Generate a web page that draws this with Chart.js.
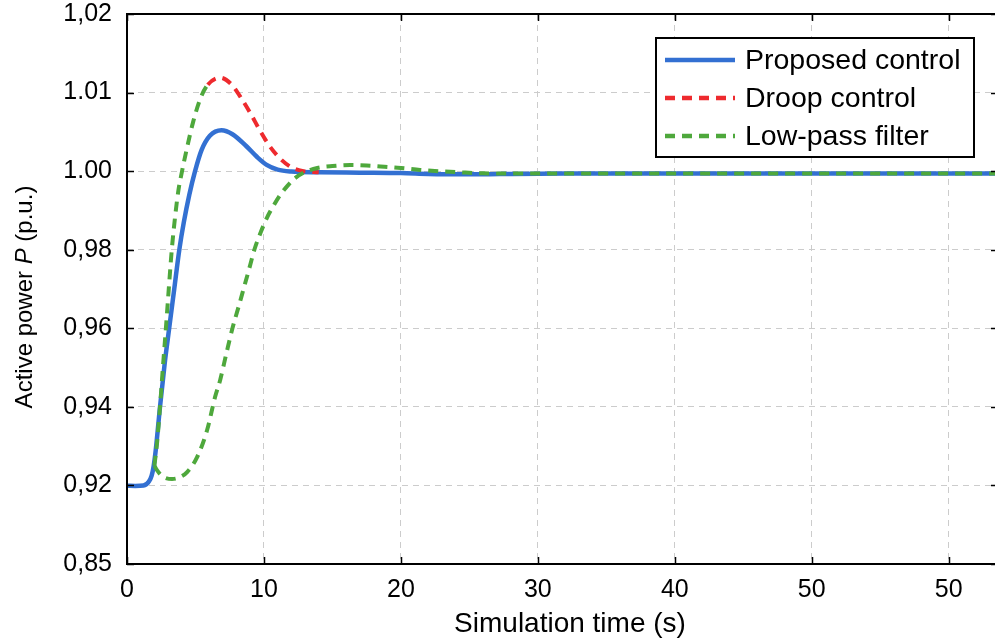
<!DOCTYPE html>
<html>
<head>
<meta charset="utf-8">
<script src="https://cdn.jsdelivr.net/npm/chart.js@4.4.1/dist/chart.umd.min.js"></script>
<style>
  html, body { margin: 0; padding: 0; background: #fff; overflow: hidden; }
  #wrap { width: 1000px; height: 642px; }
</style>
</head>
<body>
<div id="wrap"><canvas id="chart"></canvas></div>
<script>
// axis ticks (the y axis of the original is not linear: labels are evenly spaced)
const xTickValues = [0, 10, 20, 30, 40, 50, 60];
const xTickLabels = ['0', '10', '20', '30', '40', '50', '50'];
const yTickValues = [0.85, 0.92, 0.94, 0.96, 0.98, 1.00, 1.01, 1.02];
const yTickLabels = ['0,85', '0,92', '0,94', '0,96', '0,98', '1.00', '1.01', '1,02'];

// Proposed control
const proposedT = [0, 0.6, 1.2, 1.6, 1.8, 1.95, 2.1, 2.41, 2.75, 3.08, 3.45, 3.82, 4.15, 4.55, 4.97, 5.45, 6.05, 6.9, 7.7, 8.7, 9.5, 10.2, 11.0, 12.0, 14, 17, 20, 22, 24, 26, 28, 32, 40, 50, 63.6];
const proposedP = [0.9197, 0.9195, 0.9199, 0.9210, 0.9225, 0.9250, 0.9290, 0.9400, 0.9510, 0.9600, 0.9700, 0.9800, 0.9870, 0.9940, 1.0000, 1.0027, 1.0045, 1.0052, 1.0047, 1.0032, 1.0018, 1.0008, 1.0002, 0.9999, 0.9997, 0.9996, 0.9995, 0.9993, 0.9992, 0.9992, 0.9993, 0.9994, 0.9994, 0.9994, 0.9994];

// Droop control (rising part is covered by the green dashes in the original)
const droopT = [2.0, 2.2, 2.41, 2.62, 2.84, 3.05, 3.27, 3.5, 3.75, 4.02, 4.4, 4.85, 5.35, 5.9, 6.8, 7.65, 8.3, 9.0, 9.7, 10.45, 11.3, 12.1, 12.9, 14.0];
const droopP = [0.9250, 0.9310, 0.9400, 0.9500, 0.9600, 0.9700, 0.9800, 0.9880, 0.9950, 1.0000, 1.0031, 1.0064, 1.0092, 1.0110, 1.0119, 1.0110, 1.0094, 1.0074, 1.0052, 1.0031, 1.0014, 1.0004, 1.0000, 0.9997];
const droopGreenUntil = 6.2;

// Low-pass filter
const lpfT = [2.0, 2.19, 2.56, 3.29, 3.87, 4.39, 5.12, 5.85, 6.43, 6.8, 7.25, 7.7, 8.15, 8.55, 8.95, 9.3, 9.75, 10.2, 10.7, 11.2, 11.7, 12.2, 12.9, 13.9, 15.0, 16.3, 17.5, 18.5, 20.0, 21.4, 22.9, 24.3, 26, 28, 32, 40, 50, 63.6];
const lpfP = [0.9250, 0.9239, 0.9224, 0.92164, 0.9221, 0.9234, 0.9272, 0.9341, 0.9425, 0.9468, 0.9535, 0.9600, 0.9655, 0.9705, 0.9755, 0.9800, 0.9843, 0.9880, 0.9912, 0.9940, 0.9962, 0.9980, 0.9996, 1.0004, 1.00065, 1.00078, 1.00072, 1.0006, 1.0004, 1.00015, 0.99995, 0.9997, 0.99945, 0.9994, 0.9994, 0.9994, 0.9994, 0.9994];

const BLUE = '#3370d2';
const RED = '#ee2a2e';
const GREEN = '#4ea83c';
const FONT = '"Liberation Sans", Arial, Helvetica, sans-serif';

// map a p.u. value onto the evenly spaced tick positions
function toAxis(v) {
  const vals = yTickValues;
  let i = 0;
  while (i < vals.length - 2 && v > vals[i + 1]) i++;
  return i + (v - vals[i]) / (vals[i + 1] - vals[i]);
}

function points(ts, ps) {
  return ts.map((t, i) => ({ x: t, y: toAxis(ps[i]) }));
}

Chart.defaults.font.family = FONT;
Chart.defaults.color = '#000';

const framePlugin = {
  id: 'frame',
  afterDraw(chart) {
    const { ctx, chartArea: a, scales: { x, y } } = chart;
    ctx.save();
    ctx.strokeStyle = '#000';
    ctx.lineWidth = 2;
    ctx.strokeRect(a.left, a.top, a.right - a.left, a.bottom - a.top);
    ctx.beginPath();
    x.ticks.forEach(t => {
      const px = Math.round(x.getPixelForValue(t.value)) + 0.5;
      ctx.moveTo(px, a.bottom); ctx.lineTo(px, a.bottom - 7);
      ctx.moveTo(px, a.top); ctx.lineTo(px, a.top + 7);
    });
    y.ticks.forEach(t => {
      const py = Math.round(y.getPixelForValue(t.value)) + 0.5;
      ctx.moveTo(a.left, py); ctx.lineTo(a.left + 7, py);
      ctx.moveTo(a.right, py); ctx.lineTo(a.right - 7, py);
    });
    ctx.lineWidth = 1.5;
    ctx.stroke();

    // x axis title
    ctx.fillStyle = '#000';
    ctx.font = '28px ' + FONT;
    ctx.textAlign = 'center';
    ctx.textBaseline = 'middle';
    ctx.fillText('Simulation time (s)', 570, 624);

    // y axis title with italic P
    ctx.textAlign = 'left';
    const parts = [['Active power ', 'normal'], ['P', 'italic'], [' (p.u.)', 'normal']];
    const size = 24;
    let total = 0;
    parts.forEach(p => {
      ctx.font = p[1] + ' ' + size + 'px ' + FONT;
      total += ctx.measureText(p[0]).width;
    });
    ctx.translate(25, 297);
    ctx.rotate(-Math.PI / 2);
    let cx = -total / 2;
    parts.forEach(p => {
      ctx.font = p[1] + ' ' + size + 'px ' + FONT;
      ctx.fillText(p[0], cx, 0);
      cx += ctx.measureText(p[0]).width;
    });
    ctx.restore();

    // legend box inside the plot
    ctx.save();
    ctx.fillStyle = '#fff';
    ctx.fillRect(656, 38, 318, 119);
    ctx.strokeStyle = '#000';
    ctx.lineWidth = 2;
    ctx.strokeRect(656, 38, 318, 119);
    const rows = [
      ['Proposed control', BLUE, []],
      ['Droop control', RED, [10, 7]],
      ['Low-pass filter', GREEN, [10, 7]]
    ];
    rows.forEach((r, i) => {
      const yy = 60 + i * 38;
      ctx.beginPath();
      ctx.setLineDash(r[2]);
      ctx.strokeStyle = r[1];
      ctx.lineWidth = 4.5;
      ctx.moveTo(665, yy); ctx.lineTo(735, yy);
      ctx.stroke();
      ctx.setLineDash([]);
      ctx.fillStyle = '#000';
      ctx.font = '28.5px ' + FONT;
      ctx.textBaseline = 'middle';
      ctx.fillText(r[0], 745, yy + 1);
    });
    ctx.restore();
  }
};

new Chart(document.getElementById('chart'), {
  type: 'line',
  data: {
    datasets: [{
      label: 'Proposed control',
      data: points(proposedT, proposedP),
      borderColor: BLUE,
      borderWidth: 4.5,
      pointRadius: 0,
      cubicInterpolationMode: 'monotone',
      order: 2
    }, {
      label: 'Droop control',
      data: points(droopT, droopP),
      borderColor: RED,
      borderWidth: 4,
      borderDash: [10, 7],
      pointRadius: 0,
      cubicInterpolationMode: 'monotone',
      segment: {
        borderColor: c => c.p1.parsed.x <= droopGreenUntil ? GREEN : RED
      },
      order: 1
    }, {
      label: 'Low-pass filter',
      data: points(lpfT, lpfP),
      borderColor: GREEN,
      borderWidth: 4,
      borderDash: [10, 7],
      pointRadius: 0,
      cubicInterpolationMode: 'monotone',
      order: 0
    }]
  },
  options: {
    responsive: true,
    maintainAspectRatio: false,
    animation: false,
    events: [],
    layout: { padding: { top: 0, right: 2, left: 0, bottom: 0 } },
    plugins: {
      legend: { display: false },
      tooltip: { enabled: false }
    },
    scales: {
      x: {
        type: 'linear',
        min: 0,
        max: 63.6,
        afterFit: s => { s.height = 78; },
        afterBuildTicks: s => { s.ticks = xTickValues.map(v => ({ value: v })); },
        grid: { color: '#cccccc', lineWidth: 1, drawTicks: false },
        border: { display: false, dash: [6, 5] },
        ticks: {
          padding: 11,
          font: { size: 25 },
          maxRotation: 0,
          callback: (v, i) => xTickLabels[i]
        }
      },
      y: {
        type: 'linear',
        min: 0,
        max: yTickValues.length - 1,
        afterFit: s => { s.width = 127; s.paddingTop = 14; s.paddingBottom = 0; },
        afterBuildTicks: s => { s.ticks = yTickValues.map((v, i) => ({ value: i })); },
        grid: { color: '#cccccc', lineWidth: 1, drawTicks: false },
        border: { display: false, dash: [6, 5] },
        ticks: {
          padding: 15,
          font: { size: 25 },
          callback: (v, i) => yTickLabels[i]
        }
      }
    }
  },
  plugins: [framePlugin]
});
</script>
</body>
</html>
